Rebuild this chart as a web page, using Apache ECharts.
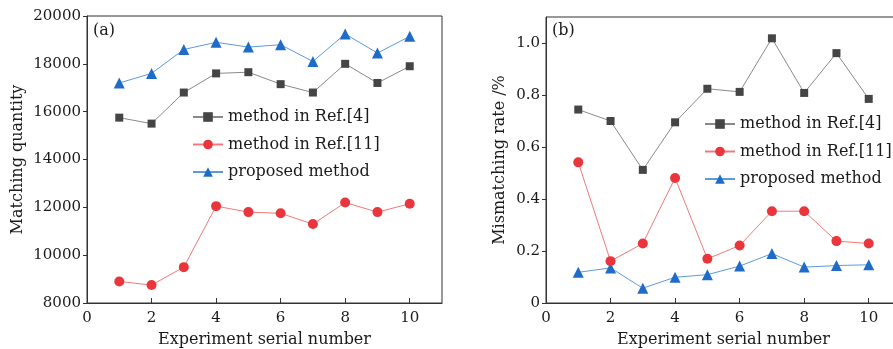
<!DOCTYPE html>
<html>
<head>
<meta charset="utf-8">
<script src="https://cdn.jsdelivr.net/npm/echarts@6/dist/echarts.min.js"></script>
<style>
  html, body { margin: 0; padding: 0; background: #fff; }
  #chart { width: 893px; height: 349px; }
</style>
</head>
<body>
<div id="chart"></div>
<script>
// experiment serial numbers
const serials = [1, 2, 3, 4, 5, 6, 7, 8, 9, 10];
const seriesNames = ['method in Ref.[4]', 'method in Ref.[11]', 'proposed method'];

// (a) matching quantity
const matchRef4 = [15750, 15500, 16800, 17600, 17650, 17150, 16800, 18000, 17200, 17900];
const matchRef11 = [8900, 8750, 9500, 12050, 11800, 11750, 11300, 12200, 11800, 12150];
const matchProposed = [17200, 17600, 18600, 18900, 18700, 18800, 18100, 19250, 18450, 19150];

// (b) mismatching rate /%
const mismatchRef4 = [0.744, 0.700, 0.512, 0.695, 0.824, 0.812, 1.018, 0.808, 0.961, 0.785];
const mismatchRef11 = [0.541, 0.161, 0.229, 0.481, 0.170, 0.221, 0.353, 0.353, 0.238, 0.229];
const mismatchProposed = [0.118, 0.135, 0.057, 0.099, 0.109, 0.142, 0.190, 0.138, 0.144, 0.147];

const FONT = 'DejaVu Serif';
const TXT = '#1a1a1a';

const pair = (vals) => serials.map((s, i) => [s, vals[i]]);

const styles = [
    { symbol: 'rect', symbolSize: 8, color: '#454545', line: '#8a8a8a' },
    { symbol: 'circle', symbolSize: 10, color: '#e8363c', line: '#f07a7a' },
    { symbol: 'triangle', symbolSize: 11, color: '#1f6cc8', line: '#5b9be0' }
];

function mkSeries(vals, k, gi) {
    let st = styles[k];
    return {
        name: seriesNames[k],
        type: 'line',
        xAxisIndex: gi,
        yAxisIndex: gi,
        data: pair(vals),
        symbol: st.symbol,
        symbolSize: st.symbolSize,
        itemStyle: { color: st.color },
        lineStyle: { color: st.line, width: 1 },
        silent: true,
        z: 3 - k
    };
}

function xAxisOf(gi) {
    return {
        type: 'value',
        gridIndex: gi,
        min: 0,
        max: 11,
        interval: 2,
        name: 'Experiment serial number',
        nameLocation: 'middle',
        nameGap: 29,
        nameTextStyle: { fontFamily: FONT, fontSize: 16, color: TXT },
        axisLine: { lineStyle: { color: '#333', width: 1 } },
        axisTick: { inside: true, length: 5, lineStyle: { color: '#333' } },
        axisLabel: { fontFamily: FONT, fontSize: 15, color: TXT, margin: 8, showMaxLabel: false },
        splitLine: { show: false }
    };
}

function legendAt(left, top) {
    return {
        orient: 'vertical',
        left: left,
        top: top,
        itemWidth: 30,
        itemHeight: 12,
        itemGap: 11.5,
        data: seriesNames,
        textStyle: { fontFamily: FONT, fontSize: 16, color: TXT },
        selectedMode: false
    };
}

const option = {
    backgroundColor: '#fff',
    animation: false,
    grid: [
        { left: 87, top: 16, width: 355, height: 287, outerBoundsMode: 'none', show: true, borderColor: '#333', borderWidth: 1 },
        { left: 546, top: 17, width: 355, height: 286, outerBoundsMode: 'none', show: true, borderColor: '#333', borderWidth: 1 }
    ],
    xAxis: [xAxisOf(0), xAxisOf(1)],
    yAxis: [{
        type: 'value',
        gridIndex: 0,
        min: 8000,
        max: 20000,
        interval: 2000,
        name: 'Matching quantity',
        nameLocation: 'middle',
        nameGap: 61,
        nameTextStyle: { fontFamily: FONT, fontSize: 16, color: TXT },
        axisLine: { lineStyle: { color: '#333', width: 1 } },
        axisTick: { length: 4, lineStyle: { color: '#333' } },
        axisLabel: { fontFamily: FONT, fontSize: 15, color: TXT, margin: 6, formatter: (v) => String(v) },
        splitLine: { show: false }
    }, {
        type: 'value',
        gridIndex: 1,
        min: 0,
        max: 1.1,
        interval: 0.2,
        name: 'Mismatching rate /%',
        nameLocation: 'middle',
        nameGap: 38,
        nameTextStyle: { fontFamily: FONT, fontSize: 16, color: TXT },
        axisLine: { lineStyle: { color: '#333', width: 1 } },
        axisTick: { length: 4, lineStyle: { color: '#333' } },
        axisLabel: {
            fontFamily: FONT, fontSize: 15, color: TXT, margin: 6, showMaxLabel: false,
            formatter: (v) => v === 0 ? '0' : v.toFixed(1)
        },
        splitLine: { show: false }
    }],
    legend: [legendAt(187, 104), legendAt(699, 111)],
    graphic: [
        { type: 'text', left: 93, top: 23, style: { text: '(a)', font: '16px "DejaVu Serif"', fill: TXT } },
        { type: 'text', left: 552, top: 23, style: { text: '(b)', font: '16px "DejaVu Serif"', fill: TXT } }
    ],
    series: [
        mkSeries(matchRef4, 0, 0),
        mkSeries(matchRef11, 1, 0),
        mkSeries(matchProposed, 2, 0),
        mkSeries(mismatchRef4, 0, 1),
        mkSeries(mismatchRef11, 1, 1),
        mkSeries(mismatchProposed, 2, 1)
    ]
};

const myChart = echarts.init(document.getElementById('chart'));
myChart.setOption(option);
</script>
</body>
</html>
